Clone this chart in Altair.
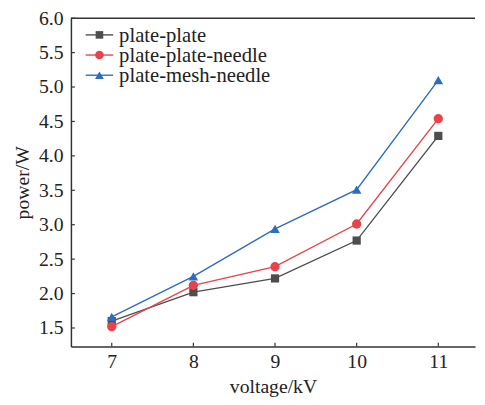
import altair as alt
import pandas as pd

voltage = [7, 8, 9, 10, 11]
series_names = ["plate-plate", "plate-plate-needle", "plate-mesh-needle"]
plate_plate = [1.60, 2.02, 2.22, 2.77, 4.29]
plate_plate_needle = [1.52, 2.12, 2.39, 3.01, 4.54]
plate_mesh_needle = [1.66, 2.25, 2.94, 3.51, 5.10]
y_ticks = [1.5, 2.0, 2.5, 3.0, 3.5, 4.0, 4.5, 5.0, 5.5, 6.0]
x_ticks = [7, 8, 9, 10, 11]

colors = ["#4d4d4d", "#e8434b", "#2c6dbe"]
shapes = ["square", "circle", "triangle-up"]
sizes = [70, 90, 95]

W, H = 411, 334
FONT = "Liberation Serif"
FS = 20

rows = []
for name, vals in zip(series_names, [plate_plate, plate_plate_needle, plate_mesh_needle]):
    for v, p in zip(voltage, vals):
        rows.append({"voltage": v, "power": p, "series": name})
df = pd.DataFrame(rows)

xscale = alt.Scale(domain=[6.5, 11.45], nice=False, zero=False)
yscale = alt.Scale(domain=[1.23, 6.0], nice=False, zero=False)

xaxis = alt.Axis(values=x_ticks, format="d", title="voltage/kV", grid=False, tickSize=0,
                 labelPadding=5, titlePadding=6, labelOverlap=False, labelFlush=False,
                 domainColor="#333333", domainWidth=1.5)
yaxis = alt.Axis(values=y_ticks, format=".1f", title="power/W", grid=False, tickSize=0,
                 labelPadding=8, titlePadding=6, labelOverlap=False, labelFlush=False,
                 domainColor="#333333", domainWidth=1.5)


def X(f):
    return alt.X(f, scale=xscale, axis=xaxis)


def Y(f):
    return alt.Y(f, scale=yscale, axis=yaxis)


layers = []
for name, c, s, sz in zip(series_names, colors, shapes, sizes):
    sub = df[df.series == name]
    base = alt.Chart(sub)
    layers.append(base.mark_line(color=c, strokeWidth=1.4).encode(
        x=X("voltage:Q"), y=Y("power:Q")))
    layers.append(base.mark_point(color=c, shape=s, size=sz, filled=True, opacity=1).encode(
        x=X("voltage:Q"), y=Y("power:Q")))

# inward ticks
ytk = alt.Chart(pd.DataFrame({"power": y_ticks})).mark_rule(color="#333333", strokeWidth=1.2).encode(
    y=Y("power:Q"), x=alt.value(0), x2=alt.value(4))
xtk = alt.Chart(pd.DataFrame({"voltage": x_ticks})).mark_rule(color="#333333", strokeWidth=1.2).encode(
    x=X("voltage:Q"), y=alt.value(H), y2=alt.value(H - 4))
top = alt.Chart(pd.DataFrame({"a": [0]})).mark_rule(color="#333333", strokeWidth=1.5).encode(
    x=alt.value(0), x2=alt.value(W), y=alt.value(0))
layers += [ytk, xtk, top]

# manual legend
leg_y = [17, 37.5, 58]
for name, c, s, sz, ly in zip(series_names, colors, shapes, sizes, leg_y):
    ld = alt.Chart(pd.DataFrame({"s": [name]}))
    layers.append(ld.mark_rule(color=c, strokeWidth=1.4).encode(
        x=alt.value(15), x2=alt.value(43), y=alt.value(ly)))
    layers.append(ld.mark_point(color=c, shape=s, size=sz * 0.85, filled=True, opacity=1).encode(
        x=alt.value(29), y=alt.value(ly)))
    layers.append(ld.mark_text(align="left", baseline="middle", font=FONT, fontSize=21,
                               color="#222222").encode(
        x=alt.value(49), y=alt.value(ly + 1), text="s:N"))

chart = alt.layer(*layers).properties(
    width=W, height=H,
    autosize=alt.AutoSizeParams(type="none"),
    padding={"left": 64, "top": 7, "right": 2, "bottom": 52},
).configure_view(stroke=None).configure_axis(
    labelFont=FONT, titleFont=FONT, labelFontSize=FS, titleFontSize=FS,
    labelColor="#222222", titleColor="#222222", titleFontWeight="normal"
)

chart.save("out.html", embed_options={"renderer": "svg", "actions": False})
